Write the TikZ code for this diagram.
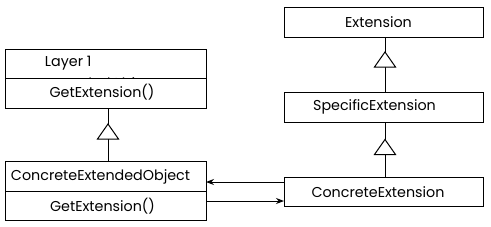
\documentclass[tikz,border=0pt]{standalone}
\usepackage{fontspec}
\setmainfont{Poppins}
\usetikzlibrary{arrows.meta}
\begin{document}
\begin{tikzpicture}[x=1pt,y=-1pt,
  every node/.style={font=\fontsize{14.3}{16}\selectfont, inner sep=0pt, outer sep=0pt},
  box/.style={draw, line width=1pt, rectangle, minimum width=199pt},
  line/.style={line width=1pt},
  tri/.style={draw, line width=1pt, fill=white},
  assoc/.style={line width=1pt, -{Stealth[length=8pt,width=6pt]}}]
\useasboundingbox (0,0) rectangle (491,226);
% left top box
\node[box, minimum height=59pt, minimum width=201pt] (eo) at (105.5,78.5) {};
\draw[line] (eo.west |- 0,78) -- (eo.east |- 0,78);
\node[anchor=west] (layer) at (45,63) {Layer 1};
\begin{scope}
  \clip (6,50) rectangle (205,78);
  \node[anchor=base west] (eotxt) at (45,88) {ExtendedObject};
\end{scope}
\node (ge1) at (102,92) {GetExtension()};
% left bottom box
\node[box, minimum height=59pt, minimum width=201pt] (ceo) at (105.5,190.5) {};
\draw[line] (ceo.west |- 0,191) -- (ceo.east |- 0,191);
\node[anchor=west] (ceotxt) at (11,177) {ConcreteExtendedObject};
\node (ge2) at (102.5,206) {GetExtension()};
% right boxes
\node[box, minimum height=30pt] (ext) at (383.5,22) {};
\node (exttxt) at (378.5,22) {Extension};
\node[box, minimum height=30pt] (spec) at (383.5,107) {};
\node (spectxt) at (374.5,107) {SpecificExtension};
\node[box, minimum height=29pt] (cext) at (383.5,191.75) {};
\node (cexttxt) at (378,192) {ConcreteExtension};
% triangles
\coordinate (t1a) at (108,124); \coordinate (t1b) at (108,139);
\coordinate (t2a) at (385,52);  \coordinate (t2b) at (385,67);
\coordinate (t3a) at (385,139.5); \coordinate (t3b) at (385,154.5);
\draw[line] (eo.south -| t1a) -- (t1a);
\draw[line] (t1b) -- (ceo.north -| t1b);
\draw[tri] (t1a) -- ++(10.5,15) -- ++(-21,0) -- cycle;
\draw[line] (ext.south -| t2a) -- (t2a);
\draw[line] (t2b) -- (spec.north -| t2b);
\draw[tri] (t2a) -- ++(10.5,15) -- ++(-21,0) -- cycle;
\draw[line] (spec.south -| t3a) -- (t3a);
\draw[line] (t3b) -- (cext.north -| t3b);
\draw[tri] (t3a) -- ++(10.5,15) -- ++(-21,0) -- cycle;
% associations
\draw[assoc] (cext.west |- 0,182) -- (ceo.east |- 0,182);
\draw[assoc] (ceo.east |- 0,201) -- (cext.west |- 0,201);
\end{tikzpicture}
\end{document}
